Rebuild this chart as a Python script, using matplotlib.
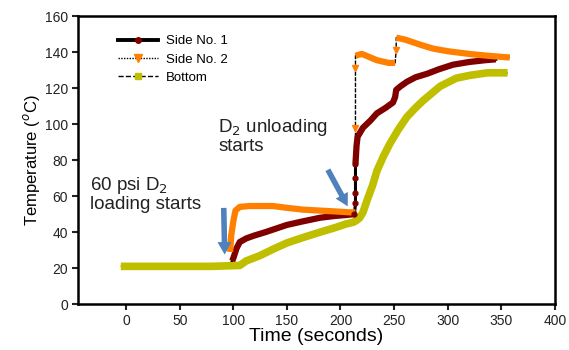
import matplotlib
matplotlib.use("Agg")
import matplotlib.pyplot as plt
from matplotlib.lines import Line2D

# Side No. 1
t_side1 = [99, 100, 103, 106, 112, 119, 130, 150, 165, 181, 195, 205, 213,
           214, 214, 214, 214, 215, 216, 221, 228, 234, 242, 249, 251, 252,
           256, 262, 270, 281, 292, 305, 320, 335, 345]
T_side1 = [24, 25.5, 31, 34.5, 36.5, 38, 40, 44, 46, 48, 49, 49.5, 50,
           56, 62, 70, 78, 88, 93, 98, 102, 106, 109, 112, 115, 119,
           121, 123.5, 126, 128, 130.5, 133, 134.5, 135.5, 136]

# Side No. 2
t_side2 = [97, 98, 100, 102, 106, 115, 137, 150, 165, 180, 195, 209,
           214, 214, 214, 214, 220, 234, 245, 251, 252, 252, 260, 275,
           286, 300, 320, 337, 358]
T_side2 = [29, 38, 46, 52, 54, 54.5, 54.5, 53.5, 52.5, 52, 51.5, 51,
           51, 98, 131, 138, 139, 135.5, 134, 134, 141, 148, 147, 144,
           142, 140.5, 139, 138, 137]

# Bottom
t_bottom = [-5, 20, 50, 80, 106, 112, 125, 137, 150, 165, 181, 195, 205,
            212, 215, 218, 221, 225, 230, 234, 240, 246, 254, 262, 270,
            277, 285, 293, 308, 320, 337, 356]
T_bottom = [21, 21, 21, 21, 21.5, 24, 27, 30.5, 34, 37, 40, 42.5, 44.5,
            45.5, 46.5, 48, 51, 58, 66, 74, 82, 89, 97, 104, 109,
            113, 117, 121, 125.5, 127, 128.5, 128.5]

labels = ['Side No. 1', 'Side No. 2', 'Bottom']
colors = ['#800000', '#ff8000', '#bfbf00']
xticks = list(range(0, 401, 50))
yticks = list(range(0, 161, 20))

plt.rcParams['font.family'] = ['Liberation Sans', 'DejaVu Sans']

fig = plt.figure(figsize=(5.69, 3.5), dpi=100)
ax = fig.add_axes([0.137, 0.131, 0.838, 0.823])

lw = 4.5
# thin black lines under the coloured ones (visible at the jumps)
ax.plot(t_side1, T_side1, color='black', lw=2.2, zorder=2)
ax.plot(t_side2, T_side2, color='black', lw=1.0, ls=(0, (3, 1)), zorder=2)
ax.plot(t_bottom, T_bottom, color='black', lw=1.0, ls='--', zorder=2)

# coloured thick traces, skipping the vertical jumps
ax.plot(t_bottom, T_bottom, color=colors[2], lw=lw + 1, zorder=3,
        solid_capstyle='butt', solid_joinstyle='round')
ax.plot(t_side1[:13], T_side1[:13], color=colors[0], lw=lw, zorder=4,
        solid_capstyle='butt', solid_joinstyle='round')
ax.plot(t_side1[16:], T_side1[16:], color=colors[0], lw=lw, zorder=4,
        solid_capstyle='butt', solid_joinstyle='round')
ax.plot(t_side1[12:17], T_side1[12:17], ls='none', marker='o', ms=3.5,
        color=colors[0], zorder=5)
ax.plot(t_side2[:13], T_side2[:13], color=colors[1], lw=lw, zorder=4,
        solid_capstyle='butt', solid_joinstyle='round')
ax.plot(t_side2[15:20], T_side2[15:20], color=colors[1], lw=lw, zorder=4,
        solid_capstyle='butt', solid_joinstyle='round')
ax.plot(t_side2[21:], T_side2[21:], color=colors[1], lw=lw, zorder=4,
        solid_capstyle='butt', solid_joinstyle='round')
ax.plot(t_side2[13:15] + t_side2[20:21], T_side2[13:15] + T_side2[20:21],
        ls='none', marker='v', ms=5, color=colors[1], zorder=5)

# arrows
arrow_kw = dict(arrowstyle='simple,head_width=1.0,head_length=0.9,tail_width=0.4',
                color='#4f81bd', lw=0)
ax.annotate('', xy=(92, 26), xytext=(91, 55), arrowprops=arrow_kw, zorder=6)
ax.annotate('', xy=(208, 53), xytext=(187, 76), arrowprops=arrow_kw, zorder=6)

ax.text(-34, 72, '60 psi D$_2$\nloading starts', fontsize=13.5, va='top',
        ha='left', linespacing=1.0, color='#222222')
ax.text(86, 104, 'D$_2$ unloading\nstarts', fontsize=13.5, va='top',
        ha='left', linespacing=1.0, color='#222222')

# legend
handles = [
    Line2D([], [], color='black', lw=2.8, marker='o', ms=4, mfc=colors[0], mec=colors[0]),
    Line2D([], [], color='black', lw=1.0, ls=(0, (1, 1)), marker='v', ms=6,
           mfc=colors[1], mec=colors[1]),
    Line2D([], [], color='black', lw=1.0, ls='--', marker='s', ms=4,
           mfc=colors[2], mec=colors[2]),
]
ax.legend(handles, labels, loc='upper left', bbox_to_anchor=(0.06, 0.975),
          frameon=False, fontsize=9.5, handlelength=3.0, handletextpad=0.6,
          labelspacing=0.45)

ax.set_xlim(-45, 400)
ax.set_ylim(0, 160)
ax.set_xticks(xticks)
ax.set_yticks(yticks)
ax.tick_params(direction='out', length=4, width=1.5, labelsize=10,
               colors='#222222', pad=3)
for s in ax.spines.values():
    s.set_linewidth(1.8)

ax.set_xlabel('Time (seconds)', fontsize=14, labelpad=0)
ax.set_ylabel('Temperature ($^{o}$C)', fontsize=12, labelpad=2)

fig.savefig('out.png', dpi=100)
